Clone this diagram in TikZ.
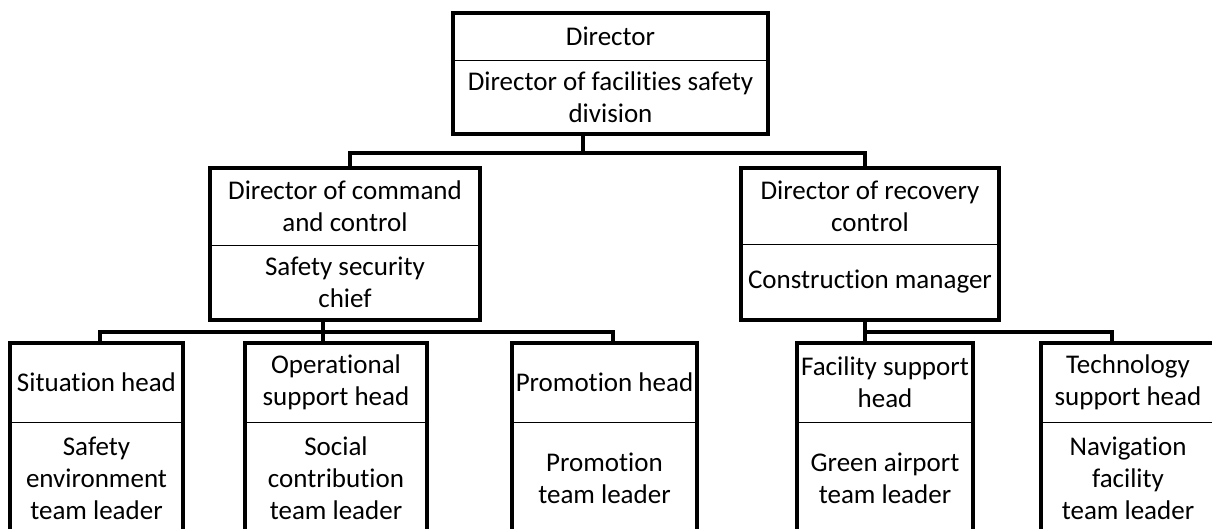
\documentclass[tikz,border=0pt]{standalone}
\usepackage{fontspec}
\setmainfont{Carlito}[RawFeature=-liga]
\usetikzlibrary{positioning}
\tikzset{part/.style={draw,line width=0.7pt,outer sep=0pt,inner sep=2pt,align=center,font=\fontsize{19.2}{22.8}\selectfont},
  wd/.style={minimum width=#1*0.025cm},
  ht/.style={minimum height=#1*0.025cm},
  boxframe/.style={line width=2.5pt},
  joint/.style={line width=2.4pt}}

\begin{document}
\begin{tikzpicture}[x=0.025cm,y=-0.025cm]
  \useasboundingbox (0,0) rectangle (1212,528);
  \clip (0,0) rectangle (1212,528);

  % top
  \node[part,wd=315,ht=47,anchor=north west] (dir) at (453,13) {Director};
  \node[part,wd=315,ht=74,below=0pt of dir] (dirsub) {Director of facilities safety\\division};
  \draw[boxframe] (dir.north west) rectangle (dirsub.south east);

  % middle
  \node[part,wd=270,ht=77,anchor=north west] (cmd) at (210,168) {Director of command\\and control};
  \node[part,wd=270,ht=75,below=0pt of cmd] (cmdsub) {Safety security\\chief};
  \draw[boxframe] (cmd.north west) rectangle (cmdsub.south east);

  \node[part,wd=258,ht=76,anchor=north west] (rec) at (741,168) {Director of recovery\\control};
  \node[part,wd=258,ht=76,below=0pt of rec] (recsub) {Construction manager};
  \draw[boxframe] (rec.north west) rectangle (recsub.south east);

  % bottom
  \node[part,wd=173,ht=79,anchor=north west] (sit) at (10,343) {Situation head};
  \node[part,wd=173,ht=112,below=0pt of sit] (sitlead) {Safety\\environment\\team leader};
  \draw[boxframe] (sit.north west) rectangle (sitlead.south east);

  \node[part,wd=182,ht=79,anchor=north west] (ops) at (245,343) {Operational\\support head};
  \node[part,wd=182,ht=112,below=0pt of ops] (opslead) {Social\\contribution\\team leader};
  \draw[boxframe] (ops.north west) rectangle (opslead.south east);

  \node[part,wd=185,ht=79,anchor=north west] (pro) at (512,343) {Promotion head};
  \node[part,wd=185,ht=112,below=0pt of pro] (prolead) {Promotion\\team leader};
  \draw[boxframe] (pro.north west) rectangle (prolead.south east);

  \node[part,wd=176,ht=79,anchor=north west] (fac) at (797,343) {Facility support\\head};
  \node[part,wd=176,ht=112,below=0pt of fac] (faclead) {Green airport\\team leader};
  \draw[boxframe] (fac.north west) rectangle (faclead.south east);

  \node[part,wd=174,ht=79,anchor=north west] (tec) at (1041,343) {Technology\\support head};
  \node[part,wd=174,ht=112,below=0pt of tec] (teclead) {Navigation\\facility\\team leader};
  \draw[boxframe] (tec.north west) rectangle (teclead.south east);

  % connectors
  \coordinate (j0) at (583,153);
  \coordinate (jl) at (350,153);
  \coordinate (jr) at (865,153);
  \draw[joint] (dirsub.south -| j0) -- (j0);
  \draw[joint] (cmd.north -| jl) -- (jl) -- (jr) -- (rec.north -| jr);

  \coordinate (k0) at (323,332);
  \coordinate (k1) at (100,332);
  \coordinate (k3) at (613,332);
  \draw[joint] (cmdsub.south -| k0) -- (ops.north -| k0);
  \draw[joint] (sit.north -| k1) -- (k1) -- (k3) -- (pro.north -| k3);

  \coordinate (m0) at (865,332);
  \coordinate (m2) at (1112,332);
  \draw[joint] (recsub.south -| m0) -- (fac.north -| m0);
  \draw[joint] (m0) -- (m2) -- (tec.north -| m2);
\end{tikzpicture}
\end{document}
